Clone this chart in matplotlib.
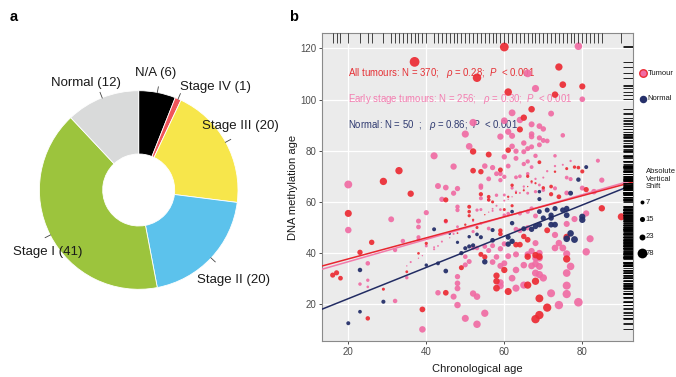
import numpy as np
import matplotlib
matplotlib.use("Agg")
import matplotlib.pyplot as plt
import matplotlib.transforms as mtransforms

plt.rcParams['font.family'] = ['Liberation Sans', 'DejaVu Sans']
plt.rcParams['mathtext.fontset'] = 'custom'
plt.rcParams['mathtext.rm'] = 'Liberation Sans'
plt.rcParams['mathtext.it'] = 'Liberation Sans:italic'

# ---------------- data: panel a ----------------
stage_labels = ["N/A (6)", "Stage IV (1)", "Stage III (20)", "Stage II (20)", "Stage I (41)", "Normal (12)"]
stage_counts = [6, 1, 20, 20, 41, 12]
stage_colors = ["#000000", "#F0555A", "#F7E64B", "#5CC2EC", "#9CC43D", "#D9DADA"]

# ---------------- data: panel b ----------------
late_age = [37, 53, 60, 74, 61, 75, 80, 73, 67, 65, 64, 52, 56, 61, 52, 54, 33, 29, 36, 20,
            26, 23, 16, 17, 18, 25, 29, 35, 38, 40, 39, 45, 45, 45, 49, 51, 51, 51, 50, 53,
            54, 55, 58, 58, 58, 61, 60, 59, 59, 63, 64, 65, 66, 66, 66, 68, 68, 69, 69, 71,
            68, 69, 71, 76, 76, 81, 85, 90, 80, 78, 79, 56, 61, 63, 65, 60, 62, 66, 55, 48,
            62, 66, 70, 72, 74, 76, 59, 52, 57, 69, 73, 67, 68, 72, 54, 56]
late_dnam = [114.7, 108.5, 120.5, 112.7, 102.9, 105.8, 105.1, 101.9, 96.2, 92.9, 88.3, 79.7, 78.5, 80.2, 72.2, 71.8, 72.2, 68.0, 63.2, 55.5,
             44.2, 40.3, 31.4, 32.3, 30.2, 14.5, 25.9, 32.7, 39.9, 43.8, 18.0, 60.8, 52.6, 24.5, 34.3, 58.1, 56.2, 54.6, 51.1, 50.0,
             39.5, 38.5, 31.2, 29.0, 26.3, 25.0, 33.4, 48.8, 47.5, 43.3, 43.3, 46.5, 45.2, 27.5, 38.6, 39.2, 14.2, 15.8, 22.3, 18.7,
             29.0, 38.6, 48.9, 46.3, 37.7, 64.8, 57.5, 54.2, 71.9, 73.6, 73.4, 60.8, 62.0, 63.5, 64.5, 57.0, 58.5, 66.0, 55.0, 47.8,
             66.5, 70.0, 65.5, 63.0, 62.0, 73.0, 72.5, 53.0, 60.0, 75.5, 71.8, 68.0, 67.3, 66.0, 63.0, 62.0]

early_age = [66, 79, 68, 80, 62, 72, 60, 64, 67, 69, 70, 61, 52, 50, 51, 59, 62, 62, 65, 67,
             69, 70, 71, 75, 69, 67, 42, 47, 55, 57, 59, 61, 60, 63, 63, 65, 66, 67, 68, 66,
             65, 67, 64, 73, 76, 77, 84, 85, 56, 58, 60, 59, 63, 66, 68, 20, 43, 45, 47, 48,
             54, 54, 58, 60, 62, 63, 65, 66, 68, 69, 70, 73, 76, 80, 83, 44, 54, 56, 48, 48,
             53, 54, 57, 59, 60, 61, 64, 66, 67, 68, 81, 78, 76, 45, 48, 50, 52, 54, 56, 63,
             64, 66, 20, 31, 38, 38, 38, 40, 34, 32, 38, 35, 25, 35, 25, 23, 25, 32, 39, 38,
             40, 42, 43, 52, 53, 55, 56, 57, 59, 60, 63, 66, 67, 50, 51, 50, 57, 59, 58, 60,
             61, 63, 62, 67, 48, 48, 48, 43, 47, 52, 53, 59, 59, 63, 65, 48, 50, 53, 55, 73,
             74, 73, 75, 68, 69, 68, 69, 81, 82, 76, 77, 69, 68, 70, 69, 76, 76, 76, 72, 74,
             79, 65, 68, 44, 46, 47, 52, 56, 58, 60, 62, 64, 57, 42, 39, 36, 61, 65, 70, 71,
             73, 75, 77, 67]
early_dnam = [110.2, 120.8, 104.3, 100.1, 94.8, 94.5, 91.7, 92.0, 90.3, 89.6, 88.5, 87.4, 91.0, 86.5, 81.7, 85.5, 81.7, 85.8, 83.0, 85.5,
              85.0, 84.0, 83.8, 86.0, 82.3, 86.5, 78.0, 73.8, 74.0, 73.4, 71.0, 74.0, 77.6, 77.0, 79.8, 79.6, 80.8, 81.5, 78.0, 75.8,
              74.8, 73.6, 70.0, 78.0, 69.5, 68.9, 76.1, 68.5, 69.0, 71.0, 69.8, 68.5, 69.6, 71.0, 69.0, 66.8, 66.2, 65.6, 63.4, 65.2,
              66.3, 65.6, 62.6, 62.7, 65.4, 64.0, 65.0, 63.4, 64.0, 66.6, 64.6, 65.3, 63.5, 65.4, 64.0, 61.0, 61.4, 60.8, 58.1, 56.8,
              56.8, 57.0, 56.5, 57.0, 54.8, 55.4, 55.5, 56.2, 57.4, 54.5, 55.5, 53.3, 51.4, 52.3, 50.3, 49.7, 48.4, 51.6, 49.6, 49.3,
              48.8, 49.9, 49.0, 53.2, 52.5, 50.2, 46.2, 55.8, 44.7, 41.2, 38.0, 35.0, 36.0, 30.4, 29.4, 27.9, 26.8, 21.3, 10.2, 45.2,
              42.8, 42.3, 42.8, 42.0, 42.0, 42.6, 41.0, 42.9, 41.7, 43.6, 39.5, 39.5, 40.8, 35.4, 36.7, 38.6, 36.5, 35.0, 38.5, 36.0,
              38.8, 33.4, 30.2, 35.0, 30.8, 28.2, 26.2, 24.5, 23.0, 24.2, 23.0, 28.5, 27.2, 26.3, 27.5, 19.7, 14.5, 12.2, 16.5, 47.1,
              43.9, 42.0, 42.0, 43.9, 40.0, 38.0, 38.0, 40.5, 45.6, 39.7, 34.8, 34.8, 32.2, 30.3, 31.6, 32.2, 27.3, 24.0, 24.3, 19.7,
              20.8, 35.3, 35.8, 44.5, 46.0, 47.5, 52.5, 56.0, 58.5, 60.5, 62.0, 63.5, 57.3, 41.5, 39.0, 36.5, 61.0, 66.0, 69.5, 72.0,
              74.0, 74.5, 76.0, 67.5]

normal_age = [20, 23, 23, 29, 40, 42, 43, 45, 46, 48, 49, 50, 51, 51, 52, 53, 54, 55, 57, 57,
              62, 62, 61, 62, 61, 65, 67, 68, 69, 69, 69, 71, 72, 73, 75, 76, 76, 70, 72, 69,
              72, 73, 77, 80, 80, 77, 76, 78, 79, 81]
normal_dnam = [12.6, 17.1, 33.4, 21.0, 35.3, 49.3, 36.0, 33.0, 47.6, 44.2, 40.0, 41.9, 42.6, 46.4, 43.0, 47.3, 46.2, 36.6, 49.0, 45.0,
               56.2, 51.7, 46.2, 44.6, 43.5, 49.5, 49.3, 50.4, 64.0, 61.1, 56.2, 56.8, 54.8, 57.4, 56.8, 57.4, 54.8, 53.7, 53.7, 51.1,
               51.1, 51.1, 63.4, 54.2, 53.0, 47.7, 45.6, 45.3, 68.7, 73.6]

# fitted regression lines (intercept, slope)
fit_all = (29.5, 0.4115)
fit_early = (27.9, 0.4366)
fit_normal = (10.0, 0.61)

size_breaks = [7, 15, 23, 78]

RED = "#EC2B33"
PINK = "#F06CA4"
NAVY = "#26306A"


def marker_area(shift):
    d_px = 1.4 + 0.95 * np.sqrt(np.asarray(shift, dtype=float))
    return (d_px * 0.72) ** 2


fig = plt.figure(figsize=(6.76, 3.77), dpi=100)

# ---------------- panel a: donut ----------------
axa = fig.add_axes([28.7 / 676, 1 - 300 / 377, 220 / 676, 220 / 377])
wedges, _ = axa.pie(stage_counts, colors=stage_colors, startangle=90, counterclock=False,
                    radius=0.993, wedgeprops=dict(width=0.633, edgecolor="white", linewidth=0.6))
axa.set_xlim(-1.1, 1.1)
axa.set_ylim(-1.1, 1.1)
axa.axis("off")
label_pos = [(0.166, 1.167, "center"), (0.413, 1.033, "left"), (0.63, 0.64, "left"),
             (0.58, -0.90, "left"), (-1.26, -0.617, "left"), (-0.524, 1.073, "center")]
for w, lab, (lx, ly, ha) in zip(wedges, stage_labels, label_pos):
    ang = np.deg2rad((w.theta1 + w.theta2) / 2)
    axa.plot([0.99 * np.cos(ang), 1.05 * np.cos(ang)], [0.99 * np.sin(ang), 1.05 * np.sin(ang)],
             color="#444444", lw=0.6)
    axa.text(lx, ly, lab, ha=ha, va="center", fontsize=9.5, color="#1a1a1a")

fig.text(14 / 676, 1 - 17 / 377, "a", fontsize=10.5, fontweight="bold", ha="center", va="center")
fig.text(294 / 676, 1 - 17 / 377, "b", fontsize=10.5, fontweight="bold", ha="center", va="center")

# ---------------- panel b: scatter ----------------
ax = fig.add_axes([322 / 676, 1 - 341 / 377, 311 / 676, 308 / 377])
ax.set_facecolor("#EBEBEB")
ax.set_xlim(13.26, 93.0)
ax.set_ylim(5.66, 125.98)
ax.set_xticks([20, 40, 60, 80])
ax.set_yticks([20, 40, 60, 80, 100, 120])
ax.grid(color="white", lw=0.9)
ax.set_axisbelow(True)
for sp in ax.spines.values():
    sp.set_color("#8a8a8a")
    sp.set_linewidth(0.8)
ax.tick_params(direction="out", length=2.5, width=0.6, color="#333333", labelsize=7,
               labelcolor="#4d4d4d", pad=1.5)
ax.set_xlabel("Chronological age", fontsize=8, color="#1a1a1a", labelpad=5)
ax.set_ylabel("DNA methylation age", fontsize=8, color="#1a1a1a", labelpad=2)

ea, ed = np.array(early_age), np.array(early_dnam)
la, ld = np.array(late_age), np.array(late_dnam)
na, nd = np.array(normal_age), np.array(normal_dnam)

ax.scatter(ea, ed, s=marker_area(np.abs(ed - ea)), color=PINK, alpha=0.92, lw=0, zorder=2)
ax.scatter(la, ld, s=marker_area(np.abs(ld - la)), color=RED, alpha=0.92, lw=0, zorder=2.1)
ax.scatter(na, nd, s=marker_area(np.abs(nd - na)), color=NAVY, alpha=0.95, lw=0, zorder=2.2)

ax.axline((0, fit_early[0]), slope=fit_early[1], color="#F27BAA", lw=1.1, zorder=3)
ax.axline((0, fit_all[0]), slope=fit_all[1], color="#E8262F", lw=1.1, zorder=3.1)
ax.axline((0, fit_normal[0]), slope=fit_normal[1], color="#222C63", lw=1.1, zorder=3.2)

ax.text(20, 110.5, r"All tumours: N = 370;   $\rho$ = 0.28;  $\it{P}$  < 0.001", color="#E53035",
        fontsize=6.9, va="center", ha="left", zorder=1.5)
ax.text(20, 100.2, r"Early stage tumours: N = 256;   $\rho$ = 0.30;  $\it{P}$  < 0.001", color="#F37DB0",
        fontsize=6.9, va="center", ha="left", zorder=1.5)
ax.text(20, 90.2, r"Normal: N = 50  ;   $\rho$ = 0.86;  $\it{P}$  < 0.001", color="#2F3A70",
        fontsize=6.9, va="center", ha="left", zorder=1.5)

# rugs
all_age = np.concatenate([ea, la, na])
all_dnam = np.concatenate([ed, ld, nd])
tr_top = mtransforms.blended_transform_factory(ax.transData, ax.transAxes)
ax.vlines(np.unique(all_age), 0.967, 1.0, transform=tr_top, color="black", lw=0.5, zorder=4)
tr_right = mtransforms.blended_transform_factory(ax.transAxes, ax.transData)
ax.hlines(all_dnam, 0.968, 1.0, transform=tr_right, color="black", lw=0.6, zorder=4)

# ---------------- legends ----------------
lax = fig.add_axes([633 / 676, 0, 43 / 676, 1])
lax.set_xlim(633, 676)
lax.set_ylim(377, 0)
lax.axis("off")
lax.scatter([642.7], [73.3], s=(7.5 * 0.72) ** 2, facecolor=PINK, edgecolor=RED, lw=1.0, clip_on=False)
lax.text(647.5, 73.3, "Tumour", fontsize=5.5, va="center", ha="left", color="#1a1a1a")
lax.scatter([642.7], [99], s=(7.5 * 0.72) ** 2, color=NAVY, lw=0, clip_on=False)
lax.text(647.5, 99, "Normal", fontsize=5.5, va="center", ha="left", color="#1a1a1a")
lax.text(645.7, 168, "Absolute\nVertical\nShift", fontsize=5.5, va="top", ha="left",
         color="#1a1a1a", linespacing=1.15)
for yy, b in zip([202.3, 219.3, 236.7, 253.3], size_breaks):
    lax.scatter([641.7], [yy], s=marker_area(b), color="black", lw=0, clip_on=False)
    lax.text(645.5, yy, str(b), fontsize=5.5, va="center", ha="left", color="#1a1a1a")

fig.savefig("out.png", dpi=100)
